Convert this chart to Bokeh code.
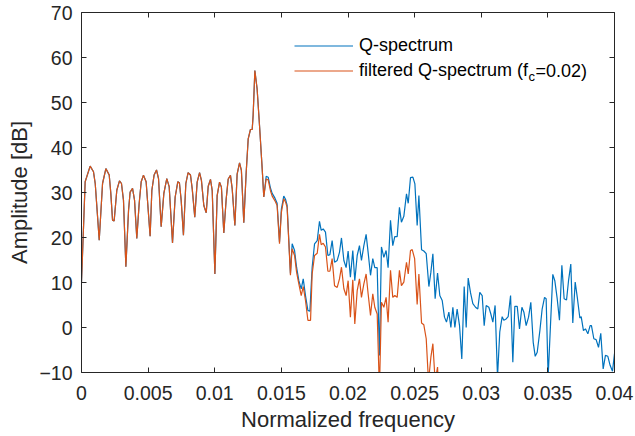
from bokeh.plotting import figure
from bokeh.models import (Range1d, FixedTicker, LinearAxis, CustomJSTickFormatter,
                          Legend, LegendItem, Label, Title)
from bokeh.embed import file_html
from bokeh.resources import INLINE

# ---------------- data ----------------
common_freq = [0.0, 0.000275, 0.00065, 0.0009, 0.00103, 0.00133, 0.00158, 0.00183, 0.00208, 0.0022,
               0.00233, 0.00245, 0.00265, 0.00285, 0.0030, 0.00315, 0.00333, 0.00353, 0.00365, 0.00383,
               0.00398, 0.00415, 0.00433, 0.00448, 0.00465, 0.00485, 0.00515, 0.00528, 0.00545, 0.00563,
               0.00578, 0.00598, 0.00618, 0.0064, 0.00658, 0.00683, 0.00703, 0.00723, 0.00735, 0.00748,
               0.00765, 0.00783, 0.0080, 0.00818, 0.00831, 0.0085, 0.00868, 0.00886, 0.009, 0.00918,
               0.00936, 0.00951, 0.00968, 0.00981, 0.01001, 0.01018, 0.01036, 0.0105, 0.01068, 0.01086,
               0.01101, 0.01118, 0.01131, 0.01151, 0.01168, 0.01186, 0.012, 0.01218, 0.01236, 0.01251,
               0.01268, 0.01281, 0.01288, 0.01301, 0.01318, 0.01336, 0.01356, 0.01368]
common_amp = [10.0, 32.4, 35.85, 34.6, 32.0, 19.4, 32.0, 35.3, 33.9, 29.8,
              23.85, 23.7, 30.5, 32.6, 32.0, 28.3, 13.5, 26.0, 30.1, 30.9,
              28.3, 19.8, 27.6, 32.4, 33.85, 32.4, 20.3, 30.5, 33.9, 35.0,
              33.1, 22.4, 29.8, 33.1, 31.3, 18.8, 29.0, 32.4, 32.1, 28.3,
              20.5, 32.0, 34.4, 33.9, 30.8, 24.5, 32.3, 34.4, 32.7, 27.1,
              25.5, 31.4, 32.9, 30.4, 11.9, 29.3, 32.3, 31.2, 21.0, 28.6,
              33.0, 33.8, 30.8, 22.7, 34.1, 36.6, 34.9, 23.3, 34.5, 41.9,
              44.0, 44.0, 47.1, 57.1, 53.0, 44.9, 35.3, 29.0]

q_tail_freq = [0.01386, 0.01401, 0.01418, 0.01431, 0.01451, 0.01468, 0.01486, 0.015, 0.01518, 0.01531,
               0.01543, 0.01568, 0.01581, 0.01599, 0.01614, 0.01631, 0.01649, 0.01664, 0.01681, 0.01699,
               0.01714, 0.01731, 0.01749, 0.01769, 0.01786, 0.01799, 0.01814, 0.01831, 0.01849, 0.01864,
               0.01881, 0.01899, 0.01919, 0.01936, 0.01951, 0.01969, 0.01986, 0.02001, 0.02018, 0.02036,
               0.02051, 0.02069, 0.02086, 0.02101, 0.02119, 0.02136, 0.02151, 0.02169, 0.02186, 0.02201,
               0.02219, 0.02236, 0.02251, 0.02269, 0.02286, 0.02301, 0.02319, 0.02336, 0.02351, 0.02369,
               0.02386, 0.02401, 0.02419, 0.02439, 0.02452, 0.02469, 0.02487, 0.02502, 0.02519, 0.02532,
               0.02552, 0.02569, 0.02587, 0.02607, 0.02622, 0.02637, 0.02654, 0.02672, 0.02689, 0.02707,
               0.02724, 0.02739, 0.02757, 0.02772, 0.02787, 0.02802, 0.02819, 0.02837, 0.02854, 0.02872,
               0.02887, 0.02902, 0.02919, 0.02937, 0.02957, 0.02974, 0.02989, 0.03007, 0.03022, 0.03037,
               0.03057, 0.03072, 0.03087, 0.03104, 0.03122, 0.03139, 0.03157, 0.03169, 0.03187, 0.03202,
               0.0322, 0.03237, 0.03252, 0.0327, 0.03287, 0.03305, 0.0332, 0.03337, 0.03355, 0.03372,
               0.0339, 0.03405, 0.0342, 0.0344, 0.03457, 0.03475, 0.03487, 0.03502, 0.0352, 0.03537,
               0.03552, 0.0357, 0.03587, 0.03605, 0.03622, 0.0364, 0.03655, 0.03672, 0.03687, 0.03705,
               0.03722, 0.0374, 0.0375, 0.03767, 0.03782, 0.038, 0.03817, 0.03827, 0.03845, 0.03862,
               0.0388, 0.03897, 0.03915, 0.03932, 0.0395, 0.03967, 0.03985, 0.04]
q_tail_amp = [33.6, 33.4, 31.0, 29.8, 28.8, 27.6, 19.0, 26.3, 29.2, 28.5,
              27.2, 12.0, 18.6, 17.1, 13.4, 10.4, 8.6, 10.8, 7.1, 3.8,
              3.6, 13.4, 18.6, 19.3, 23.6, 21.6, 21.9, 21.2, 16.0, 16.2,
              19.3, 14.5, 14.9, 16.7, 19.9, 14.9, 13.3, 17.0, 11.2, 17.1,
              10.4, 16.0, 18.2, 14.9, 18.2, 20.7, 16.7, 11.6, 15.3, 13.3,
              13.3, -6.2, 17.9, 15.6, 17.1, 13.3, 23.8, 18.2, 20.2, 20.2,
              26.7, 23.4, 24.7, 29.7, 27.6, 33.3, 33.4, 31.9, 22.7, 29.3,
              17.3, 17.0, 16.4, 9.1, 12.3, 16.4, 6.4, 12.1, 7.1, 6.0,
              2.3, 1.2, 3.4, 0.0, 4.5, 0.0, 4.1, 0.4, -7.0, 9.1,
              0.0, 11.0, 7.8, 5.3, 4.5, 4.1, 7.8, 7.1, 0.4, 4.9,
              4.5, 3.0, 1.2, 4.9, -11.0, -1.0, 2.4, 1.6, 1.9, 2.4,
              7.1, -7.7, 4.7, 4.7, -0.3, 4.5, 3.4, 0.4, 2.3, 5.6,
              -3.3, -6.4, -5.5, -0.7, 4.1, 6.7, 6.4, -11.0, 0.8, 11.8,
              10.4, 6.4, 1.6, 13.8, 6.4, 6.1, 10.4, 14.1, 1.0, 10.1,
              6.4, 2.1, 2.4, -0.7, -0.3, -1.4, 0.4, 0.4, -2.5, -2.7,
              -4.4, -1.3, -9.2, -6.2, -6.4, -8.4, -9.7, -5.8]

f_tail_freq = [0.01386, 0.01401, 0.01418, 0.01431, 0.01451, 0.01468, 0.01486, 0.015, 0.01518, 0.01531,
               0.01543, 0.01568, 0.0158, 0.01599, 0.01614, 0.01631, 0.01649, 0.01664, 0.01681, 0.01699,
               0.01719, 0.01731, 0.01749, 0.01769, 0.01786, 0.01799, 0.01814, 0.01831, 0.01849, 0.01864,
               0.01881, 0.01899, 0.01919, 0.01936, 0.01951, 0.01969, 0.01986, 0.02001, 0.02018, 0.02036,
               0.02051, 0.02069, 0.02086, 0.02101, 0.02119, 0.02136, 0.02151, 0.02169, 0.02186, 0.02201,
               0.02219, 0.02236, 0.02251, 0.02269, 0.02286, 0.02301, 0.02319, 0.02336, 0.02351, 0.02369,
               0.02386, 0.02401, 0.02419, 0.02439, 0.02452, 0.02469, 0.02482, 0.025, 0.02519, 0.02532,
               0.02552, 0.02569, 0.02587, 0.02604, 0.02622, 0.02637, 0.02654, 0.02672, 0.0268]
f_tail_amp = [33.0, 32.8, 30.4, 29.2, 28.2, 27.1, 18.6, 25.6, 28.6, 27.9,
              26.7, 11.6, 17.5, 16.0, 12.3, 9.7, 7.1, 9.1, 6.0, 1.6,
              1.6, 11.9, 16.0, 16.5, 20.7, 18.4, 18.7, 17.9, 12.5, 12.5,
              15.3, 9.3, 8.9, 10.8, 13.4, 8.6, 7.1, 10.4, 2.3, 10.6,
              0.8, 8.2, 10.8, 6.7, 9.7, 11.9, 7.5, 2.7, 7.5, 4.5,
              3.0, -14.0, 5.6, 4.5, 6.7, 1.2, 12.7, 6.7, 7.1, 6.7,
              12.7, 9.3, 10.1, 14.5, 11.9, 17.1, 17.3, 15.3, 5.1, 11.9,
              1.0, 0.6, -2.5, -12.0, -6.6, -3.6, -12.0, -8.8, -14.0]

q_freq = common_freq + q_tail_freq
q_amp = common_amp + q_tail_amp
f_freq = common_freq + f_tail_freq
f_amp = common_amp + f_tail_amp

x_ticks = [0, 0.005, 0.01, 0.015, 0.02, 0.025, 0.03, 0.035, 0.04]
y_ticks = [-10, 0, 10, 20, 30, 40, 50, 60, 70]

x_label = "Normalized frequency"
y_label = "Amplitude [dB]"
series_names = ["Q-spectrum", "filtered Q-spectrum (f"]
subscript_text = "c"
suffix_text = "=0.02)"

# ---------------- styling ----------------
FONT = "Liberation Sans"
AX = "#262626"
BLUE = "#0072BD"
ORANGE = "#D95319"

p = figure(width=635, height=436, output_backend="svg", toolbar_location=None,
           x_range=Range1d(0, 0.04), y_range=Range1d(-10, 70),
           min_border_left=81, min_border_right=21, min_border_top=12, min_border_bottom=64,
           y_axis_label=y_label)
p.grid.visible = False
p.outline_line_color = None
p.background_fill_color = "white"
p.border_fill_color = "white"

r1 = p.line(q_freq, q_amp, color=BLUE, line_width=1.2)
r2 = p.line(f_freq, f_amp, color=ORANGE, line_width=1.2)

p.xaxis.ticker = FixedTicker(ticks=x_ticks)
p.yaxis.ticker = FixedTicker(ticks=y_ticks)
p.xaxis.formatter = CustomJSTickFormatter(code="return Number(tick.toFixed(4)).toString();")

for ax in (p.xaxis[0], p.yaxis[0]):
    ax.axis_line_color = AX
    ax.major_tick_line_color = AX
    ax.major_tick_in = 5
    ax.major_tick_out = 0
    ax.minor_tick_line_color = None
    ax.major_label_text_font = FONT
    ax.major_label_text_font_size = "19.5px"
    ax.major_label_text_color = AX
    ax.axis_label_text_font = FONT
    ax.axis_label_text_font_size = "22px"
    ax.axis_label_text_font_style = "normal"
    ax.axis_label_text_color = AX

p.xaxis.major_label_standoff = 13
p.yaxis.major_label_standoff = 9
p.yaxis.axis_label_standoff = 4

# x-axis title as a Title placed below the axis (keeps the frame height intact)
p.add_layout(Title(text=x_label, align="center", text_font=FONT, text_font_size="22px",
                   text_font_style="normal", text_color=AX, standoff=4, offset=0), "below")

blank = CustomJSTickFormatter(code="return '';")
top_axis = LinearAxis(ticker=FixedTicker(ticks=x_ticks), formatter=blank,
                      major_tick_in=5, major_tick_out=0, minor_tick_line_color=None,
                      axis_line_color=AX, major_tick_line_color=AX,
                      major_label_text_font_size="0px", major_label_standoff=0)
right_axis = LinearAxis(ticker=FixedTicker(ticks=y_ticks), formatter=blank,
                        major_tick_in=5, major_tick_out=0, minor_tick_line_color=None,
                        axis_line_color=AX, major_tick_line_color=AX,
                        major_label_text_font_size="0px", major_label_standoff=0)
p.add_layout(top_axis, "above")
p.add_layout(right_axis, "right")

legend = Legend(items=[LegendItem(label=series_names[0], renderers=[r1]),
                       LegendItem(label=series_names[1], renderers=[r2])],
                location=(213, 289.5), glyph_width=59, glyph_height=25, label_height=25,
                label_standoff=6, padding=0, spacing=0, margin=0,
                border_line_color=None, background_fill_alpha=0,
                label_text_font=FONT, label_text_font_size="18px", label_text_color="#000000")
p.add_layout(legend)

p.add_layout(Label(x=447, y=296, x_units="screen", y_units="screen", text=subscript_text,
                   text_font=FONT, text_font_size="13px", text_baseline="middle",
                   text_color="#000000"))
p.add_layout(Label(x=454, y=302, x_units="screen", y_units="screen", text=suffix_text,
                   text_font=FONT, text_font_size="18px", text_baseline="middle",
                   text_color="#000000"))

open("out.html", "w").write(file_html(p, INLINE))
